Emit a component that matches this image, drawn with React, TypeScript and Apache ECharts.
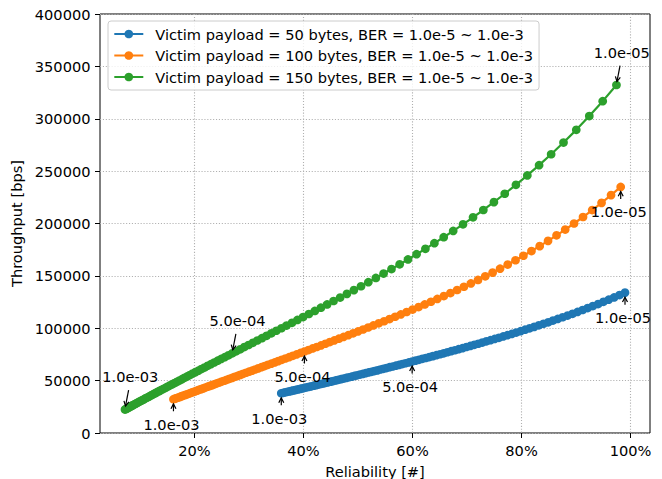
import React, { useEffect, useRef } from "react";
import * as echarts from "echarts";

// ---------- data ----------
const seriesNames = [
  "Victim payload = 50 bytes, BER = 1.0e-5 ~ 1.0e-3",
  "Victim payload = 100 bytes, BER = 1.0e-5 ~ 1.0e-3",
  "Victim payload = 150 bytes, BER = 1.0e-5 ~ 1.0e-3",
];
const seriesColors = ["#1f77b4", "#ff7f0e", "#2ca02c"];

// BER = 1e-5, 2e-5, ..., 1e-3 (100 points per series)
const blueReliability = [
  0.9898, 0.9797, 0.9697, 0.9599, 0.9501, 0.9404, 0.9308, 0.9213, 0.912, 0.9027,
  0.8935, 0.8844, 0.8754, 0.8664, 0.8576, 0.8489, 0.8402, 0.8317, 0.8232, 0.8148,
  0.8065, 0.7983, 0.7902, 0.7821, 0.7741, 0.7663, 0.7584, 0.7507, 0.7431, 0.7355,
  0.728, 0.7206, 0.7133, 0.706, 0.6988, 0.6917, 0.6846, 0.6777, 0.6708, 0.6639,
  0.6572, 0.6505, 0.6438, 0.6373, 0.6308, 0.6244, 0.618, 0.6117, 0.6055, 0.5993,
  0.5932, 0.5871, 0.5812, 0.5752, 0.5694, 0.5636, 0.5578, 0.5522, 0.5465, 0.541,
  0.5355, 0.53, 0.5246, 0.5193, 0.514, 0.5087, 0.5035, 0.4984, 0.4933, 0.4883,
  0.4833, 0.4784, 0.4735, 0.4687, 0.4639, 0.4592, 0.4545, 0.4499, 0.4453, 0.4408,
  0.4363, 0.4318, 0.4275, 0.4231, 0.4188, 0.4145, 0.4103, 0.4061, 0.402, 0.3979,
  0.3938, 0.3898, 0.3858, 0.3819, 0.378, 0.3742, 0.3704, 0.3666, 0.3629, 0.3592,
];
const blueThroughput = [
  134000, 131700, 129400, 127300, 125200, 123100, 121200, 119300, 117400, 115600,
  113800, 112100, 110500, 108900, 107300, 105700, 104200, 102800, 101300, 99900,
  98600, 97200, 95900, 94600, 93400, 92200, 90900, 89800, 88600, 87500,
  86300, 85200, 84200, 83100, 82100, 81000, 80000, 79000, 78100, 77100,
  76100, 75200, 74300, 73400, 72500, 71600, 70800, 69900, 69100, 68200,
  67400, 66600, 65800, 65000, 64300, 63500, 62800, 62000, 61300, 60600,
  59800, 59100, 58400, 57800, 57100, 56400, 55800, 55100, 54500, 53800,
  53200, 52600, 52000, 51400, 50800, 50200, 49600, 49000, 48400, 47900,
  47300, 46800, 46200, 45700, 45200, 44600, 44100, 43600, 43100, 42600,
  42100, 41600, 41100, 40700, 40200, 39700, 39300, 38800, 38400, 37900,
];
const orangeReliability = [
  0.9819, 0.9642, 0.9468, 0.9296, 0.9128, 0.8963, 0.8801, 0.8642, 0.8486, 0.8333,
  0.8182, 0.8034, 0.7889, 0.7746, 0.7606, 0.7469, 0.7334, 0.7201, 0.7071, 0.6943,
  0.6818, 0.6695, 0.6574, 0.6455, 0.6338, 0.6224, 0.6111, 0.6001, 0.5892, 0.5786,
  0.5681, 0.5578, 0.5478, 0.5379, 0.5281, 0.5186, 0.5092, 0.5, 0.491, 0.4821,
  0.4734, 0.4648, 0.4564, 0.4482, 0.4401, 0.4321, 0.4243, 0.4166, 0.4091, 0.4017,
  0.3945, 0.3873, 0.3803, 0.3735, 0.3667, 0.3601, 0.3536, 0.3472, 0.3409, 0.3347,
  0.3287, 0.3227, 0.3169, 0.3112, 0.3056, 0.3, 0.2946, 0.2893, 0.2841, 0.2789,
  0.2739, 0.2689, 0.2641, 0.2593, 0.2546, 0.25, 0.2455, 0.2411, 0.2367, 0.2324,
  0.2282, 0.2241, 0.22, 0.2161, 0.2122, 0.2083, 0.2046, 0.2009, 0.1972, 0.1937,
  0.1902, 0.1867, 0.1834, 0.18, 0.1768, 0.1736, 0.1705, 0.1674, 0.1643, 0.1614,
];
const orangeThroughput = [
  234900, 227100, 219700, 212800, 206200, 200000, 194200, 188700, 183400, 178400,
  173700, 169200, 164900, 160800, 156900, 153100, 149600, 146100, 142800, 139600,
  136500, 133600, 130700, 128000, 125300, 122700, 120200, 117800, 115500, 113200,
  111000, 108800, 106700, 104700, 102700, 100700, 98800, 97000, 95200, 93400,
  91700, 90000, 88400, 86800, 85200, 83600, 82100, 80700, 79200, 77800,
  76400, 75000, 73700, 72400, 71100, 69900, 68600, 67400, 66200, 65100,
  63900, 62800, 61700, 60600, 59500, 58500, 57500, 56500, 55500, 54500,
  53600, 52600, 51700, 50800, 49900, 49100, 48200, 47400, 46500, 45700,
  44900, 44200, 43400, 42600, 41900, 41200, 40400, 39700, 39100, 38400,
  37700, 37000, 36400, 35800, 35200, 34500, 33900, 33400, 32800, 32200,
];
const greenReliability = [
  0.9741, 0.9489, 0.9243, 0.9004, 0.877, 0.8543, 0.8322, 0.8106, 0.7897, 0.7692,
  0.7493, 0.7299, 0.711, 0.6926, 0.6746, 0.6572, 0.6401, 0.6236, 0.6074, 0.5917,
  0.5764, 0.5614, 0.5469, 0.5327, 0.5189, 0.5055, 0.4924, 0.4796, 0.4672, 0.4551,
  0.4433, 0.4319, 0.4207, 0.4098, 0.3992, 0.3888, 0.3788, 0.3689, 0.3594, 0.3501,
  0.341, 0.3322, 0.3236, 0.3152, 0.307, 0.2991, 0.2913, 0.2838, 0.2764, 0.2693,
  0.2623, 0.2555, 0.2489, 0.2425, 0.2362, 0.2301, 0.2241, 0.2183, 0.2126, 0.2071,
  0.2018, 0.1965, 0.1915, 0.1865, 0.1817, 0.177, 0.1724, 0.1679, 0.1636, 0.1593,
  0.1552, 0.1512, 0.1473, 0.1435, 0.1397, 0.1361, 0.1326, 0.1292, 0.1258, 0.1226,
  0.1194, 0.1163, 0.1133, 0.1103, 0.1075, 0.1047, 0.102, 0.0993, 0.0968, 0.0943,
  0.0918, 0.0895, 0.0871, 0.0849, 0.0827, 0.0805, 0.0785, 0.0764, 0.0744, 0.0725,
];
const greenThroughput = [
  332200, 316800, 302600, 289400, 277300, 266100, 255700, 245900, 236900, 228400,
  220400, 212900, 205900, 199200, 192900, 186900, 181200, 175800, 170700, 165700,
  161000, 156500, 152200, 148000, 144000, 140100, 136400, 132800, 129300, 126000,
  122700, 119600, 116500, 113600, 110700, 107900, 105200, 102600, 100000, 97600,
  95200, 92800, 90500, 88300, 86100, 84000, 82000, 79900, 78000, 76100,
  74200, 72400, 70700, 69000, 67300, 65700, 64100, 62500, 61000, 59500,
  58100, 56700, 55300, 54000, 52700, 51400, 50100, 48900, 47700, 46600,
  45500, 44400, 43300, 42200, 41200, 40200, 39300, 38300, 37400, 36500,
  35600, 34700, 33900, 33100, 32300, 31500, 30800, 30000, 29300, 28600,
  27900, 27200, 26600, 25900, 25300, 24700, 24100, 23500, 22900, 22400,
];

const xTickValues = [0.2, 0.4, 0.6, 0.8, 1.0];
const yMin = 0;
const yMax = 400000;
const yInterval = 50000;

// annotations: series index, point index in the arrays, label, side
const annotationSeries = [2, 2, 2, 1, 1, 1, 0, 0, 0];
const annotationIndex = [99, 49, 0, 99, 49, 0, 99, 49, 0];
const annotationLabels = ["1.0e-03", "5.0e-04", "1.0e-05", "1.0e-03", "5.0e-04", "1.0e-05", "1.0e-03", "5.0e-04", "1.0e-05"];
const annotationSide = ["above", "above", "above", "below", "below", "below", "below", "below", "below"];

// ---------- styling ----------
const FONT = "DejaVu Sans";
const FS = 14.6;
const ABOVE = { text: [5.3, -33], tail: [3.6, -19.5], tip: [0.5, -3.5] };
const BELOW = { text: [-2, 25], tail: [0, 12], tip: [0, 4.6] };

const xs = [blueReliability, orangeReliability, greenReliability];
const ys = [blueThroughput, orangeThroughput, greenThroughput];

export default function App() {
  const ref = useRef<HTMLDivElement>(null);

  useEffect(() => {
    if (!ref.current) return;
    const chart = echarts.init(ref.current, undefined, { renderer: "svg" });

    const allX = ([] as number[]).concat(...xs);
    const dMin = Math.min(...allX);
    const dMax = Math.max(...allX);
    const pad = (dMax - dMin) * 0.05;

    const lineSeries = xs.map((xv, s) => ({
      name: seriesNames[s],
      type: "line",
      data: xv.map((x, i) => [x, ys[s][i]]),
      symbol: "circle",
      symbolSize: 8.7,
      showSymbol: true,
      showAllSymbol: true,
      lineStyle: { color: seriesColors[s], width: 2.2 },
      itemStyle: { color: seriesColors[s], borderWidth: 0 },
      emphasis: { disabled: true },
      silent: true,
      z: 2 + s,
    }));

    const annotationData = annotationSeries.map((s, k) => [
      xs[s][annotationIndex[k]],
      ys[s][annotationIndex[k]],
    ]);

    const annotationSeriesObj = {
      type: "custom",
      silent: true,
      clip: false,
      z: 10,
      data: annotationData,
      renderItem: (params: any, api: any) => {
        const k = params.dataIndex;
        const p = api.coord([api.value(0), api.value(1)]);
        const o = annotationSide[k] === "above" ? ABOVE : BELOW;
        const tip = [p[0] + o.tip[0], p[1] + o.tip[1]];
        const tail = [p[0] + o.tail[0], p[1] + o.tail[1]];
        const ang = Math.atan2(tip[1] - tail[1], tip[0] - tail[0]);
        const hl = 4.8;
        const hw = 2.5;
        const bx = tip[0] - hl * Math.cos(ang);
        const by = tip[1] - hl * Math.sin(ang);
        const nx = -Math.sin(ang);
        const ny = Math.cos(ang);
        return {
          type: "group",
          children: [
            {
              type: "line",
              shape: { x1: tail[0], y1: tail[1], x2: tip[0], y2: tip[1] },
              style: { stroke: "#000", lineWidth: 1.2 },
            },
            {
              type: "polyline",
              shape: { points: [[bx + nx * hw, by + ny * hw], tip, [bx - nx * hw, by - ny * hw]] },
              style: { stroke: "#000", lineWidth: 1.2, fill: "none" },
            },
            {
              type: "text",
              x: p[0] + o.text[0],
              y: p[1] + o.text[1],
              style: {
                text: annotationLabels[k],
                fill: "#000",
                fontSize: FS,
                fontFamily: FONT,
                align: "center",
                verticalAlign: "middle",
              },
            },
          ],
        };
      },
    };

    chart.setOption({
      animation: false,
      textStyle: { fontFamily: FONT },
      grid: {
        left: 100,
        right: 12,
        top: 14,
        bottom: 46,
        containLabel: false,
        outerBoundsMode: "none",
        show: true,
        borderColor: "#000",
        borderWidth: 1,
        backgroundColor: "transparent",
      },
      legend: {
        orient: "vertical",
        left: 108,
        top: 21,
        itemWidth: 29,
        itemHeight: 10.8,
        itemGap: 6.5,
        padding: [5.5, 6, 5.5, 5.3],
        backgroundColor: "rgba(255,255,255,0.8)",
        borderColor: "#cccccc",
        borderWidth: 1,
        borderRadius: 3,
        selectedMode: false,
        textStyle: { fontSize: FS, color: "#000", fontFamily: FONT, padding: [0, 0, 0, 7] },
        data: seriesNames,
      },
      xAxis: {
        type: "value",
        min: dMin - pad,
        max: dMax + pad,
        name: "Reliability [#]",
        nameLocation: "middle",
        nameGap: 31,
        nameTextStyle: { fontSize: FS, color: "#000", fontFamily: FONT },
        axisLine: { show: false },
        axisTick: {
          show: true,
          length: 5,
          customValues: xTickValues,
          lineStyle: { color: "#000", width: 1 },
        },
        axisLabel: {
          customValues: xTickValues,
          margin: 10,
          fontSize: FS,
          color: "#000",
          fontFamily: FONT,
          formatter: (v: number) => `${Math.round(v * 100)}%`,
        },
        splitLine: {
          show: true,
          lineStyle: { color: "#b0b0b0", width: 1.1, type: [1.1, 1.8] },
        },
      },
      yAxis: {
        type: "value",
        min: yMin,
        max: yMax,
        interval: yInterval,
        name: "Throughput [bps]",
        nameLocation: "middle",
        nameGap: 68,
        nameRotate: 90,
        nameTextStyle: { fontSize: FS, color: "#000", fontFamily: FONT },
        axisLine: { show: false },
        axisTick: { show: true, length: 5, lineStyle: { color: "#000", width: 1 } },
        axisLabel: {
          margin: 9.5,
          fontSize: FS,
          color: "#000",
          fontFamily: FONT,
          formatter: (v: number) => String(v),
        },
        splitLine: {
          show: true,
          lineStyle: { color: "#b0b0b0", width: 1.1, type: [1.1, 1.8] },
        },
      },
      series: [...lineSeries, annotationSeriesObj],
    });

    return () => chart.dispose();
  }, []);

  return (
    <div
      ref={ref}
      style={{ position: "absolute", left: 0, top: 0, width: 662, height: 479, background: "#fff" }}
    />
  );
}
